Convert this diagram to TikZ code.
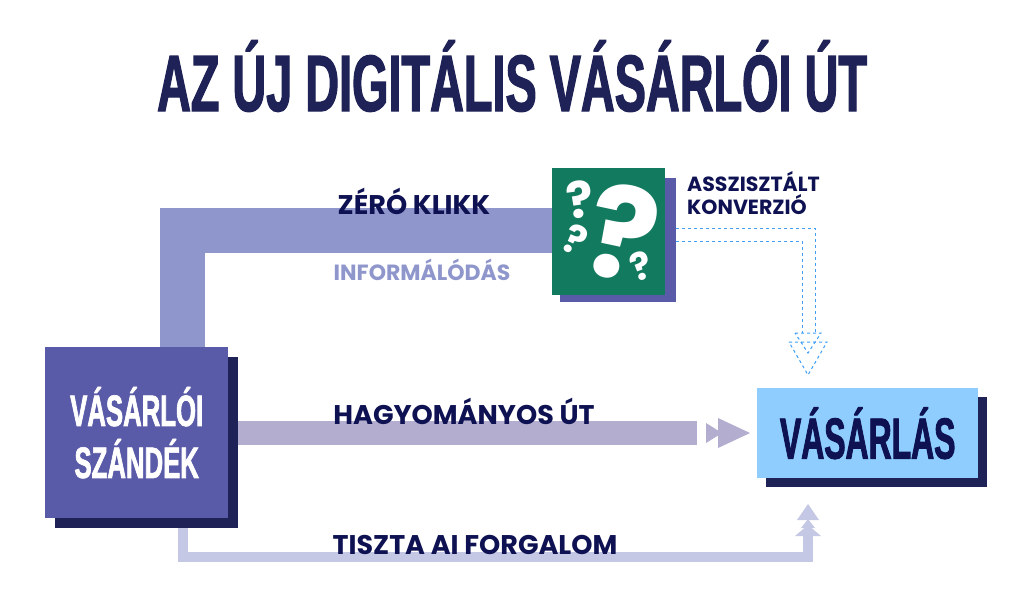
\documentclass[tikz,border=0pt]{standalone}
\usepackage{fontspec}
\setmainfont{Poppins}
\newfontfamily\condfont[FakeStretch=0.585,FakeBold=1.5]{Liberation Sans Bold}
\newfontfamily\narrowfont[FakeStretch=0.55,FakeBold=1.5]{Liberation Sans Bold}
\usetikzlibrary{positioning}
\definecolor{navy}{HTML}{1F2256}
\definecolor{textnavy}{HTML}{0E1152}
\definecolor{boxpurple}{HTML}{5A5BA8}
\definecolor{bandblue}{HTML}{8F96CC}
\definecolor{bandgray}{HTML}{B3AED0}
\definecolor{bandlight}{HTML}{C5C8E4}
\definecolor{qgreen}{HTML}{127A5F}
\definecolor{skyblue}{HTML}{8ECDFD}
\definecolor{dashblue}{HTML}{3FA0F5}
\tikzset{
lbl/.style={font=\bfseries\fontsize{27}{27}\selectfont,text=textnavy,inner sep=0pt},
smalllbl/.style={font=\bfseries\fontsize{20.5}{23}\selectfont,text=textnavy,inner sep=0pt,align=left,anchor=north west},
qmark/.style={font=\bfseries,text=white,inner sep=0pt},
dashline/.style={draw=dashblue,dashed,line width=1pt},
}
\begin{document}
\begin{tikzpicture}[x=1pt,y=-1pt]
\useasboundingbox[fill=white] (0,0) rectangle (1024,614);
% title
\node (title) at (512,76) {\condfont\fontsize{80}{80}\selectfont\color{navy}AZ ÚJ DIGITÁLIS VÁSÁRLÓI ÚT};
% bands
\draw[bandblue,line width=45pt] (182,350) -- (182,230.5) -- (556,230.5);
\fill[bandgray] (238,421) rectangle (697,445);
\fill[bandgray] (706,423) -- (722,433) -- (706,443) -- cycle;
\fill[bandgray] (718,418) -- (750,433) -- (718,448) -- cycle;
\draw[bandlight,line width=10pt] (183,515) -- (183,557) -- (808,557) -- (808,536);
\fill[bandlight] (797,520) -- (808,504) -- (819,520) -- cycle;
\fill[bandlight] (801,528) -- (808,519) -- (815,528) -- cycle;
\fill[bandlight] (795,536) -- (808,525) -- (821,536) -- cycle;
% source box
\fill[navy] (55,357) rectangle (238,528);
\node[fill=boxpurple,minimum width=183pt,minimum height=171pt,anchor=north west,inner sep=0pt,align=center,text=white,
  font=\condfont\fontsize{44}{52}\selectfont] (intent) at (45,347) {VÁSÁRLÓI\\SZÁNDÉK};
% question box
\fill[boxpurple] (560,178) rectangle (676,302);
\node[fill=qgreen,minimum width=113pt,minimum height=127pt,anchor=north west,inner sep=0pt] (quest) at (552,168) {};
\begin{scope}
\clip (quest.north west) rectangle (quest.south east);
\node[qmark,font=\bfseries\fontsize{128}{128}\selectfont,rotate=-12] (q1) at (623,233) {?};
\node[qmark,font=\bfseries\fontsize{50}{50}\selectfont,rotate=8] (q2) at (580,199) {?};
\node[qmark,font=\bfseries\fontsize{40}{40}\selectfont,rotate=-25] (q3) at (575,240) {?};
\node[qmark,font=\bfseries\fontsize{38}{38}\selectfont,rotate=20] (q4) at (641,266) {?};
\end{scope}
% target box
\fill[navy] (766,397) rectangle (987,487);
\node[fill=skyblue,minimum width=221pt,minimum height=90pt,anchor=north west,inner sep=0pt,text=textnavy,
  font=\narrowfont\fontsize{58}{58}\selectfont] (buy) at (757,388) {VÁSÁRLÁS};
% dashed assisted path
\coordinate (d1) at (quest.east |- 0,228);
\coordinate (d2) at (quest.east |- 0,241);
\draw[dashline] ([xshift=11pt]d1) -- (815,228) -- (815,333);
\draw[dashline] ([xshift=11pt]d2) -- (802,241) -- (802,333);
\draw[dashline] (795,333) -- (821,333) -- (808,353) -- cycle;
\draw[dashline] (789,342) -- (827,342) -- (808,375) -- cycle;
% labels
\node[lbl] (zero) at (414,201) {ZÉRÓ KLIKK};
\node[lbl,text=bandblue,font=\bfseries\fontsize{22}{22}\selectfont] (info) at (422,270) {INFORMÁLÓDÁS};
\node[smalllbl] (assist) at (687,171) {ASSZISZTÁLT\\KONVERZIÓ};
\node[lbl] (trad) at (464,411) {HAGYOMÁNYOS ÚT};
\node[lbl] (pure) at (475,545) {TISZTA AI FORGALOM};
\end{tikzpicture}
\end{document}
